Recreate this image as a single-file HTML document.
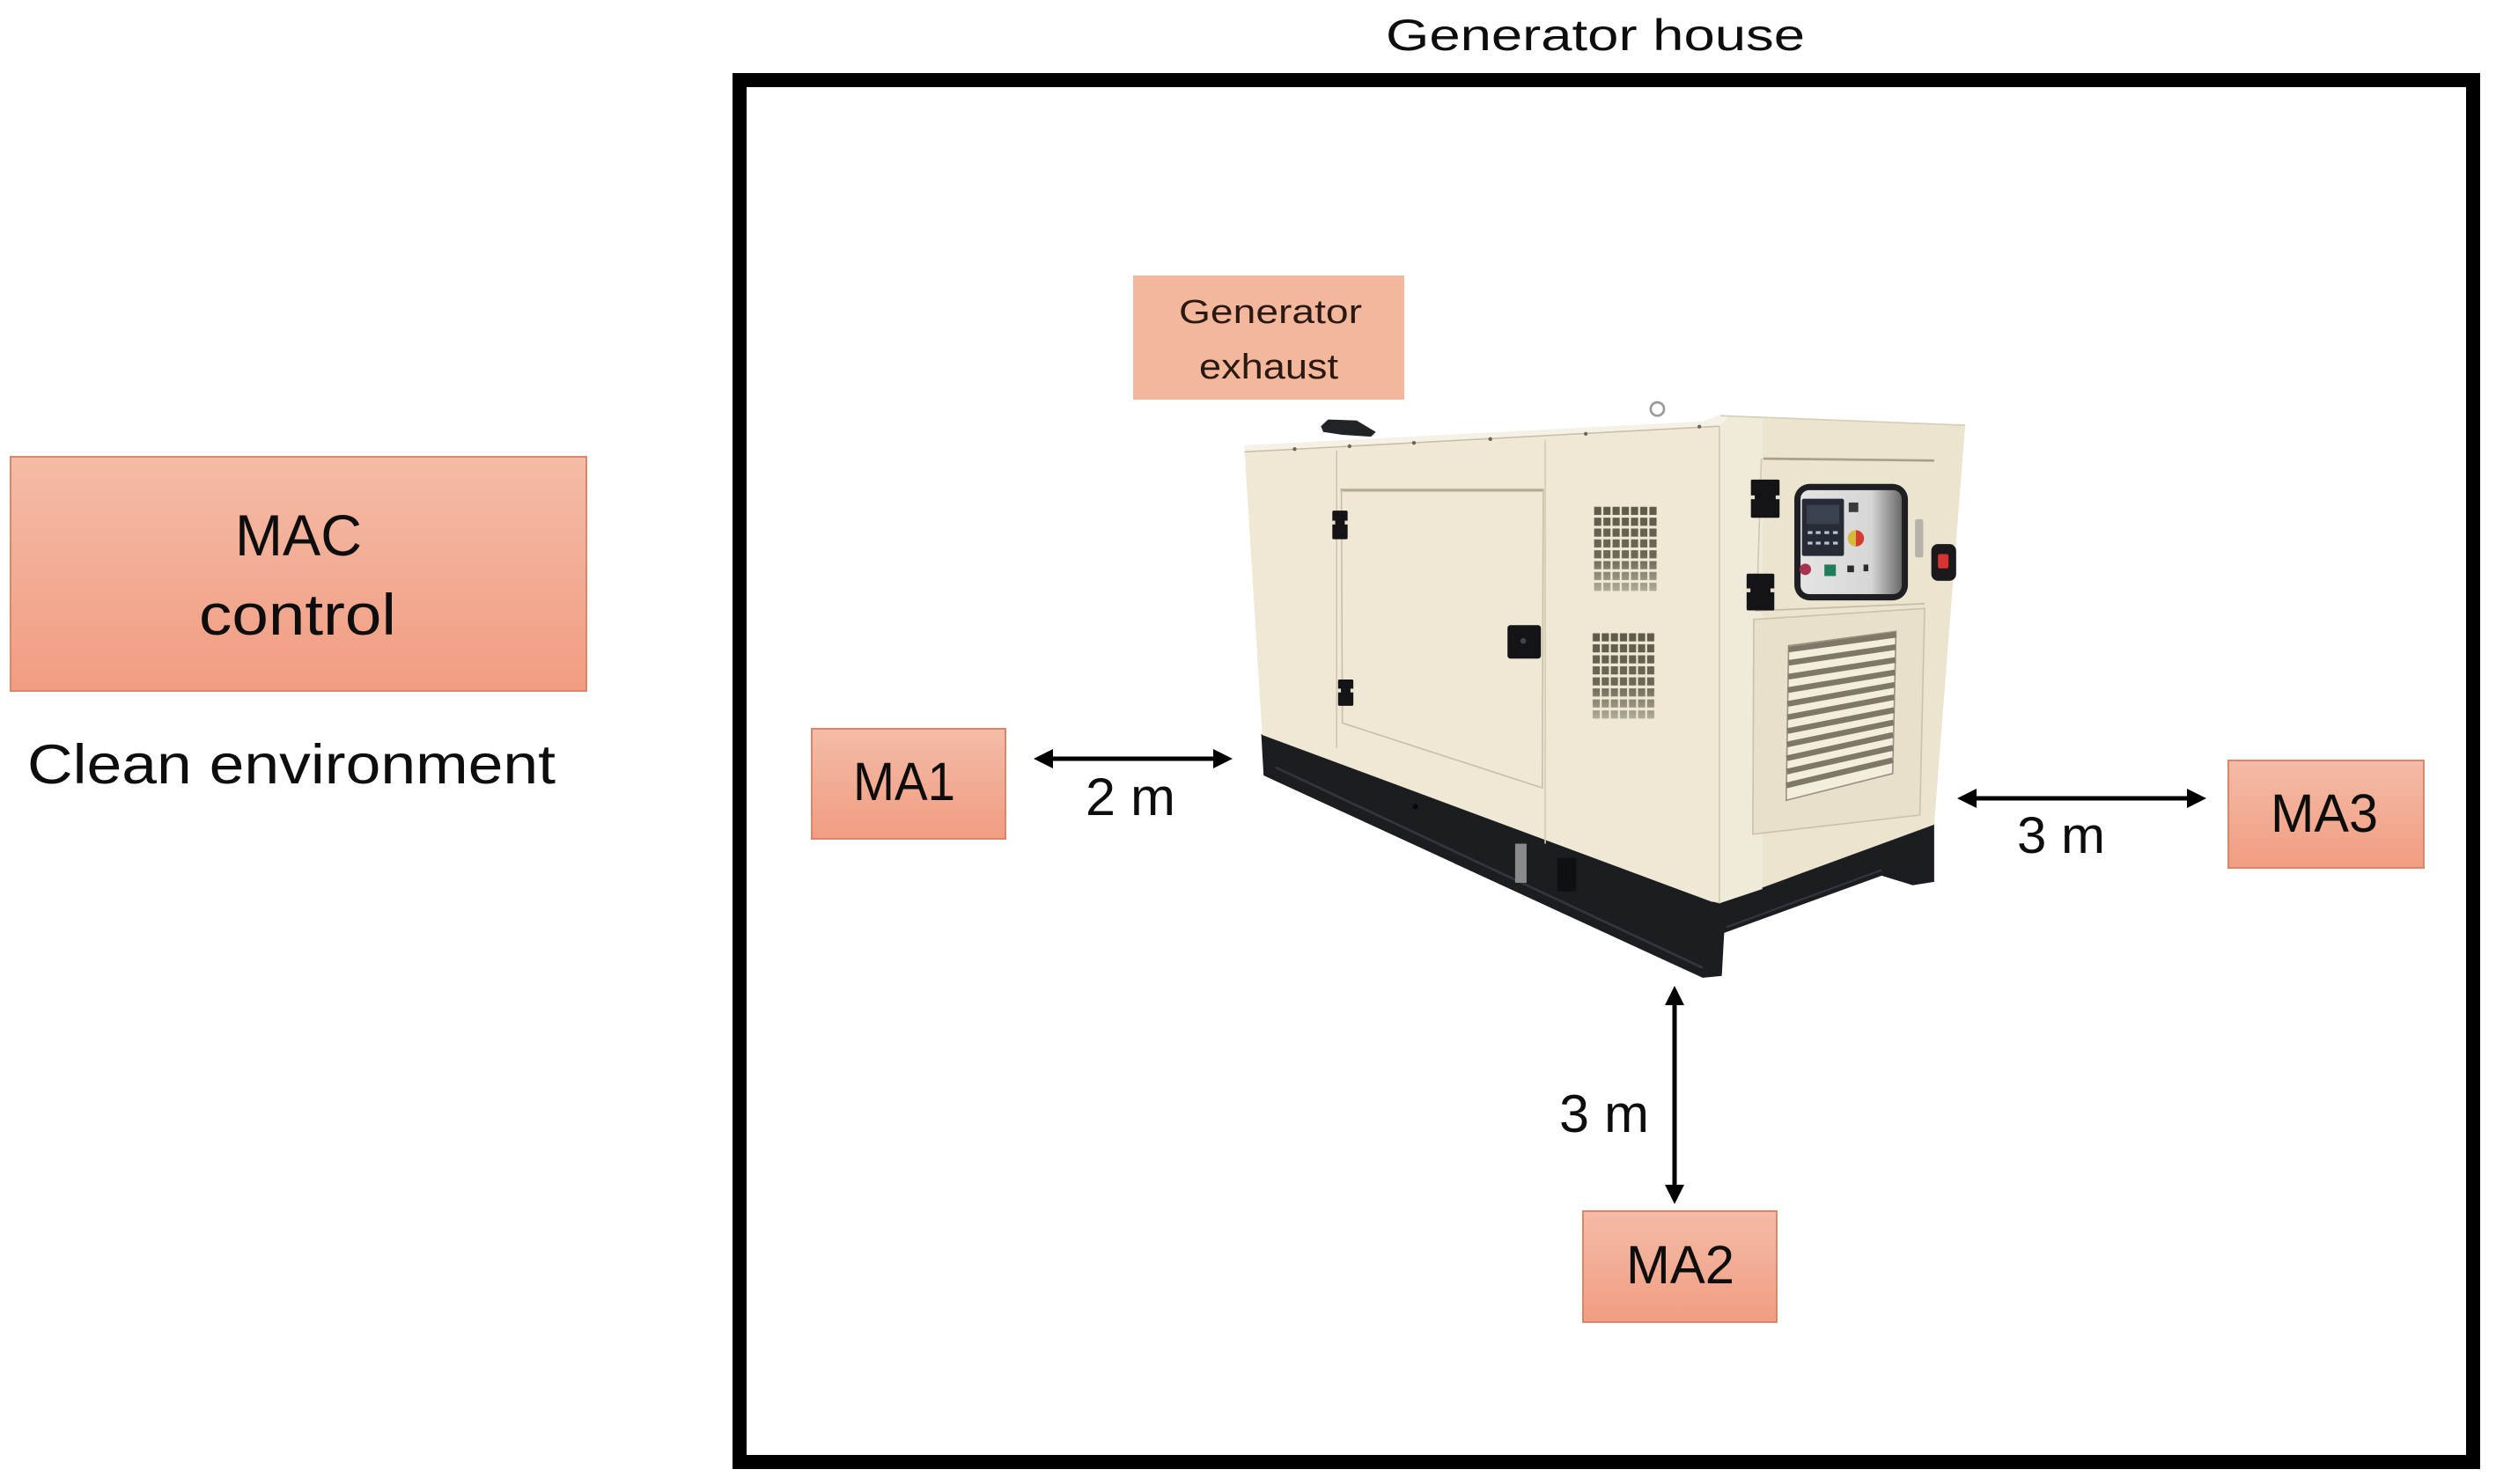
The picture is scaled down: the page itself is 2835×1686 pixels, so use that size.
<!DOCTYPE html>
<html>
<head>
<meta charset="utf-8">
<style>
  html, body { margin:0; padding:0; background:#ffffff; }
  body { width:2835px; height:1686px; overflow:hidden; position:relative; }
  svg { position:absolute; left:0; top:0; }
  text { font-family: "Liberation Sans", Arial, sans-serif; fill:#0d0d0d; }
</style>
</head>
<body>
<svg width="2835" height="1686" viewBox="0 0 2835 1686" xmlns="http://www.w3.org/2000/svg">
  <defs>
    <linearGradient id="boxg" x1="0" y1="0" x2="0" y2="1">
      <stop offset="0" stop-color="#f4bba7"/>
      <stop offset="1" stop-color="#f19d81"/>
    </linearGradient>
    <pattern id="grA" patternUnits="userSpaceOnUse" x="756" y="267" width="19.3" height="22.75">
      <rect x="0" y="0" width="19.3" height="22.75" fill="#efe8d4"/>
      <rect x="1.5" y="2" width="15" height="17" fill="#5f594a"/>
    </pattern>
    <pattern id="grB" patternUnits="userSpaceOnUse" x="753" y="532" width="19" height="23.1">
      <rect x="0" y="0" width="19" height="23.1" fill="#efe8d4"/>
      <rect x="1.5" y="2" width="15" height="17" fill="#5f594a"/>
    </pattern>
    <linearGradient id="fade" x1="0" y1="0" x2="0" y2="1">
      <stop offset="0" stop-color="#efe8d4" stop-opacity="0"/>
      <stop offset="0.6" stop-color="#efe8d4" stop-opacity="0.1"/>
      <stop offset="1" stop-color="#efe8d4" stop-opacity="0.6"/>
    </linearGradient>
    <linearGradient id="scr" x1="0" y1="0" x2="1" y2="0">
      <stop offset="0" stop-color="#e4e4e4"/>
      <stop offset="0.7" stop-color="#d6d6d6"/>
      <stop offset="1" stop-color="#6a6a6a"/>
    </linearGradient>
  </defs>

  <!-- Generator house frame -->
  <rect x="840" y="91" width="1969" height="1570" fill="none" stroke="#000" stroke-width="16"/>
  <text x="1574" y="57" font-size="50" textLength="476" lengthAdjust="spacingAndGlyphs">Generator house</text>

  <!-- MAC control -->
  <rect x="12" y="519" width="654" height="266" fill="url(#boxg)" stroke="#d7886a" stroke-width="2"/>
  <text x="267" y="631" font-size="66" textLength="144" lengthAdjust="spacingAndGlyphs">MAC</text>
  <text x="226" y="721" font-size="66" textLength="224" lengthAdjust="spacingAndGlyphs">control</text>
  <text x="31" y="890" font-size="63" textLength="600" lengthAdjust="spacingAndGlyphs">Clean environment</text>

  <!-- Generator exhaust label -->
  <rect x="1287" y="313" width="308" height="141" fill="#f3b89c"/>
  <text x="1339" y="367" font-size="38" textLength="208" lengthAdjust="spacingAndGlyphs" style="fill:#2a1812">Generator</text>
  <text x="1362" y="430" font-size="40" textLength="158" lengthAdjust="spacingAndGlyphs" style="fill:#2a1812">exhaust</text>

  <!-- Generator drawing -->
  <g transform="translate(1400 430) scale(0.54209)">
    <!-- base -->
    <polygon points="60,745 1005,1097 1470,930 1470,1055 1425,1062 1360,1042 1030,1162 1025,1252 985,1256 65,832" fill="#1c1d21"/>
    <polyline points="90,815 985,1235" stroke="#34363c" stroke-width="5" fill="none"/>
    <polyline points="1035,1150 1360,1030" stroke="#34363c" stroke-width="4" fill="none"/>
    <rect x="592" y="975" width="24" height="82" fill="#8a8a8c"/>
    <rect x="680" y="1005" width="40" height="70" fill="#0f1012"/>
    <circle cx="383" cy="897" r="6" fill="#0a0a0a"/>
    <!-- long face -->
    <polygon points="25,150 985,100 1020,100 1020,1100 1000,1095 62,747" fill="#efe8d4"/>
    <!-- end face -->
    <polygon points="1020,82 1042,78 1535,98 1470,935 1020,1100" fill="#ebe4cf"/>
    <polygon points="1020,82 1042,78 1110,82 1110,1070 1020,1100" fill="#f0eadb"/>
    <!-- roof edge -->
    <polygon points="25,140 985,90 1022,76 1042,78 1020,100 985,104 25,156" fill="#f5f1e6"/>
    <polyline points="25,154 985,102 1020,100" stroke="#c9bfa6" stroke-width="3" fill="none"/>
    <polyline points="1022,78 1535,98" stroke="#d6cdb6" stroke-width="3" fill="none"/>
    <line x1="1020" y1="100" x2="1020" y2="1100" stroke="#d2c9b1" stroke-width="3"/>
    <!-- bolts -->
    <g fill="#6b6556">
      <circle cx="130" cy="148" r="4"/><circle cx="245" cy="142" r="4"/><circle cx="380" cy="135" r="4"/>
      <circle cx="540" cy="127" r="4"/><circle cx="740" cy="116" r="4"/><circle cx="978" cy="101" r="4"/>
    </g>
    <!-- exhaust stub & lift eye -->
    <polygon points="185,100 200,86 260,88 300,112 290,122 230,118 190,112" fill="#222326"/>
    <circle cx="890" cy="64" r="14" fill="none" stroke="#9a9a9a" stroke-width="5"/>
    <!-- long face seams and door -->
    <line x1="218" y1="152" x2="218" y2="775" stroke="#cfc6ae" stroke-width="3"/>
    <line x1="655" y1="128" x2="655" y2="975" stroke="#d3cab2" stroke-width="3"/>
    <line x1="226" y1="234" x2="652" y2="234" stroke="#b5ab92" stroke-width="6"/>
    <polyline points="228,234 230,722 649,858 651,234" fill="none" stroke="#c8bfa7" stroke-width="3"/>
    <!-- hinges -->
    <g fill="#141416">
      <rect x="209" y="277" width="32" height="60" rx="3"/>
      <rect x="221" y="631" width="32" height="55" rx="3"/>
      <rect x="576" y="517" width="70" height="70" rx="6"/>
    </g>
    <g fill="#e8e1cc">
      <rect x="207" y="298" width="8" height="8"/><rect x="235" y="298" width="8" height="8"/>
      <rect x="219" y="650" width="8" height="8"/><rect x="247" y="650" width="8" height="8"/>
    </g>
    <circle cx="609" cy="550" r="6" fill="#40444e"/>
    <!-- grilles -->
    <rect x="756" y="267" width="135" height="182" fill="url(#grA)"/>
    <rect x="756" y="267" width="135" height="182" fill="url(#fade)"/>
    <rect x="753" y="532" width="133" height="185" fill="url(#grB)"/>
    <rect x="753" y="532" width="133" height="185" fill="url(#fade)"/>
    <!-- end face panel lines -->
    <line x1="1112" y1="168" x2="1470" y2="172" stroke="#a9a08a" stroke-width="5"/>
    <line x1="1108" y1="168" x2="1098" y2="485" stroke="#cfc6ae" stroke-width="3"/>
    <line x1="1095" y1="487" x2="1450" y2="472" stroke="#c4bba3" stroke-width="3"/>
    <!-- louver door -->
    <polygon points="1092,505 1450,482 1440,915 1090,955" fill="#e8e0ca" stroke="#cbc2aa" stroke-width="3"/>
    <polygon points="1165,560 1390,530 1383,828 1160,884" fill="#f3eddd" stroke="#9a927f" stroke-width="3"/>
    <g stroke="#7f7868" stroke-width="12">
      <line x1="1165" y1="568" x2="1390" y2="537"/>
      <line x1="1165" y1="596" x2="1389" y2="563"/>
      <line x1="1164" y1="625" x2="1389" y2="590"/>
      <line x1="1164" y1="653" x2="1388" y2="616"/>
      <line x1="1163" y1="682" x2="1387" y2="642"/>
      <line x1="1163" y1="710" x2="1386" y2="668"/>
      <line x1="1162" y1="739" x2="1386" y2="695"/>
      <line x1="1162" y1="767" x2="1385" y2="721"/>
      <line x1="1161" y1="796" x2="1384" y2="747"/>
      <line x1="1161" y1="824" x2="1384" y2="774"/>
      <line x1="1160" y1="853" x2="1383" y2="800"/>
    </g>
    <!-- hinges end face -->
    <g fill="#141416">
      <rect x="1086" y="212" width="60" height="80" rx="3"/>
      <rect x="1077" y="409" width="58" height="77" rx="3"/>
    </g>
    <g fill="#e8e1cc">
      <rect x="1084" y="245" width="10" height="8"/><rect x="1138" y="245" width="10" height="8"/>
      <rect x="1075" y="440" width="10" height="8"/><rect x="1127" y="440" width="10" height="8"/>
    </g>
    <!-- control window -->
    <rect x="1177" y="221" width="238" height="244" rx="32" fill="#1e1f22"/>
    <rect x="1190" y="234" width="212" height="218" rx="18" fill="url(#scr)"/>
    <rect x="1193" y="252" width="88" height="120" rx="4" fill="#262b36"/>
    <rect x="1203" y="265" width="68" height="40" fill="#3a4250"/>
    <g fill="#b9c2d0">
      <rect x="1205" y="320" width="10" height="6"/><rect x="1222" y="320" width="10" height="6"/><rect x="1240" y="320" width="10" height="6"/><rect x="1258" y="320" width="10" height="6"/>
      <rect x="1205" y="342" width="10" height="6"/><rect x="1222" y="342" width="10" height="6"/><rect x="1240" y="342" width="10" height="6"/><rect x="1258" y="342" width="10" height="6"/>
    </g>
    <circle cx="1306" cy="335" r="17" fill="#d7b93a"/>
    <path d="M1306,318 A17,17 0 0 1 1306,352 Z" fill="#d43b32"/>
    <rect x="1291" y="260" width="20" height="20" fill="#3b3b3b"/>
    <rect x="1240" y="390" width="24" height="24" fill="#1f7d5c"/>
    <circle cx="1200" cy="400" r="12" fill="#a83050"/>
    <rect x="1288" y="392" width="14" height="14" fill="#2b2b2b"/>
    <rect x="1322" y="390" width="10" height="14" fill="#2b2b2b"/>
    <!-- side handle & red button -->
    <rect x="1430" y="295" width="17" height="80" rx="4" fill="#b7b3aa"/>
    <rect x="1464" y="347" width="52" height="77" rx="14" fill="#1a1a1c"/>
    <rect x="1478" y="368" width="22" height="30" rx="4" fill="#d83232"/>
  </g>

  <!-- MA boxes -->
  <rect x="922" y="828" width="220" height="125" fill="url(#boxg)" stroke="#d7886a" stroke-width="2"/>
  <text x="969" y="909" font-size="61" textLength="116" lengthAdjust="spacingAndGlyphs">MA1</text>

  <rect x="1798" y="1376" width="220" height="126" fill="url(#boxg)" stroke="#d7886a" stroke-width="2"/>
  <text x="1847" y="1458" font-size="61" textLength="123" lengthAdjust="spacingAndGlyphs">MA2</text>

  <rect x="2531" y="864" width="222" height="122" fill="url(#boxg)" stroke="#d7886a" stroke-width="2"/>
  <text x="2579" y="945" font-size="61" textLength="122" lengthAdjust="spacingAndGlyphs">MA3</text>

  <!-- Arrows -->
  <g stroke="#000" stroke-width="5">
    <line x1="1192" y1="862" x2="1382" y2="862"/>
    <line x1="2241" y1="907" x2="2488" y2="907"/>
    <line x1="1902" y1="1138" x2="1902" y2="1350"/>
  </g>
  <g fill="#000">
    <polygon points="1174,862 1196,851 1196,873"/>
    <polygon points="1400,862 1378,851 1378,873"/>
    <polygon points="2223,907 2245,896 2245,918"/>
    <polygon points="2506,907 2484,896 2484,918"/>
    <polygon points="1902,1120 1891,1142 1913,1142"/>
    <polygon points="1902,1368 1891,1346 1913,1346"/>
  </g>
  <text x="1233" y="926" font-size="60" textLength="102" lengthAdjust="spacingAndGlyphs">2 m</text>
  <text x="2291" y="969" font-size="58" textLength="100" lengthAdjust="spacingAndGlyphs">3 m</text>
  <text x="1771" y="1286" font-size="60" textLength="102" lengthAdjust="spacingAndGlyphs">3 m</text>
</svg>
</body>
</html>
